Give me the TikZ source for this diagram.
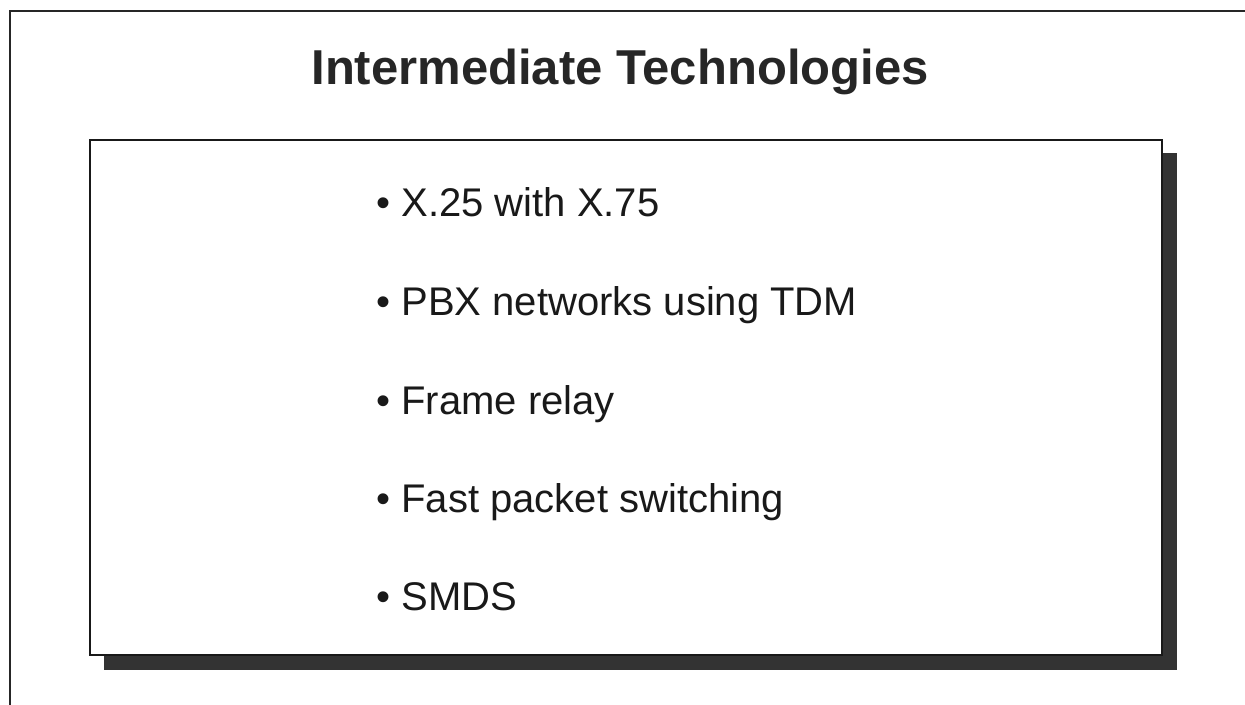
\documentclass[tikz,border=0pt]{standalone}
\usepackage{fontspec}
\setmainfont{Liberation Sans}
\begin{document}
\begin{tikzpicture}[x=0.5pt, y=-0.5pt,
  frameline/.style={draw=black!85, line width=0.6pt},
  slidebox/.style={draw=black!90, line width=1.2pt, fill=white},
  dropshadow/.style={fill=black!80, draw=none},
  titletext/.style={font=\fontsize{24.5}{28}\selectfont\bfseries, text=black!85, inner sep=0pt, anchor=base},
  itemtext/.style={font=\fontsize{20}{24}\selectfont, text=black!90, inner sep=0pt, anchor=base west}]
  \useasboundingbox (0,0) rectangle (1245,705);
  % page frame: left and top rules only
  \coordinate (fbl) at (10,705);
  \coordinate (ftl) at (10,11);
  \coordinate (ftr) at (1245,11);
  \draw[frameline] (fbl) -- (ftl) -- (ftr);
  % title
  \node[titletext] (title) at (620,85) {Intermediate Technologies};
  % shadowed panel
  \coordinate (stl) at (104,153);
  \coordinate (sbr) at (1177,670);
  \fill[dropshadow] (stl) rectangle (sbr);
  \coordinate (btl) at (90,140);
  \coordinate (bbr) at (1162,655);
  \draw[slidebox] (btl) rectangle (bbr);
  % bullet list
  \node[itemtext] (i1) at (376,217) {• X.25 with X.75};
  \node[itemtext] (i2) at (376,315) {• PBX networks using TDM};
  \node[itemtext] (i3) at (376,414) {• Frame relay};
  \node[itemtext] (i4) at (376,512) {• Fast packet switching};
  \node[itemtext] (i5) at (376,610) {• SMDS};
\end{tikzpicture}
\end{document}
